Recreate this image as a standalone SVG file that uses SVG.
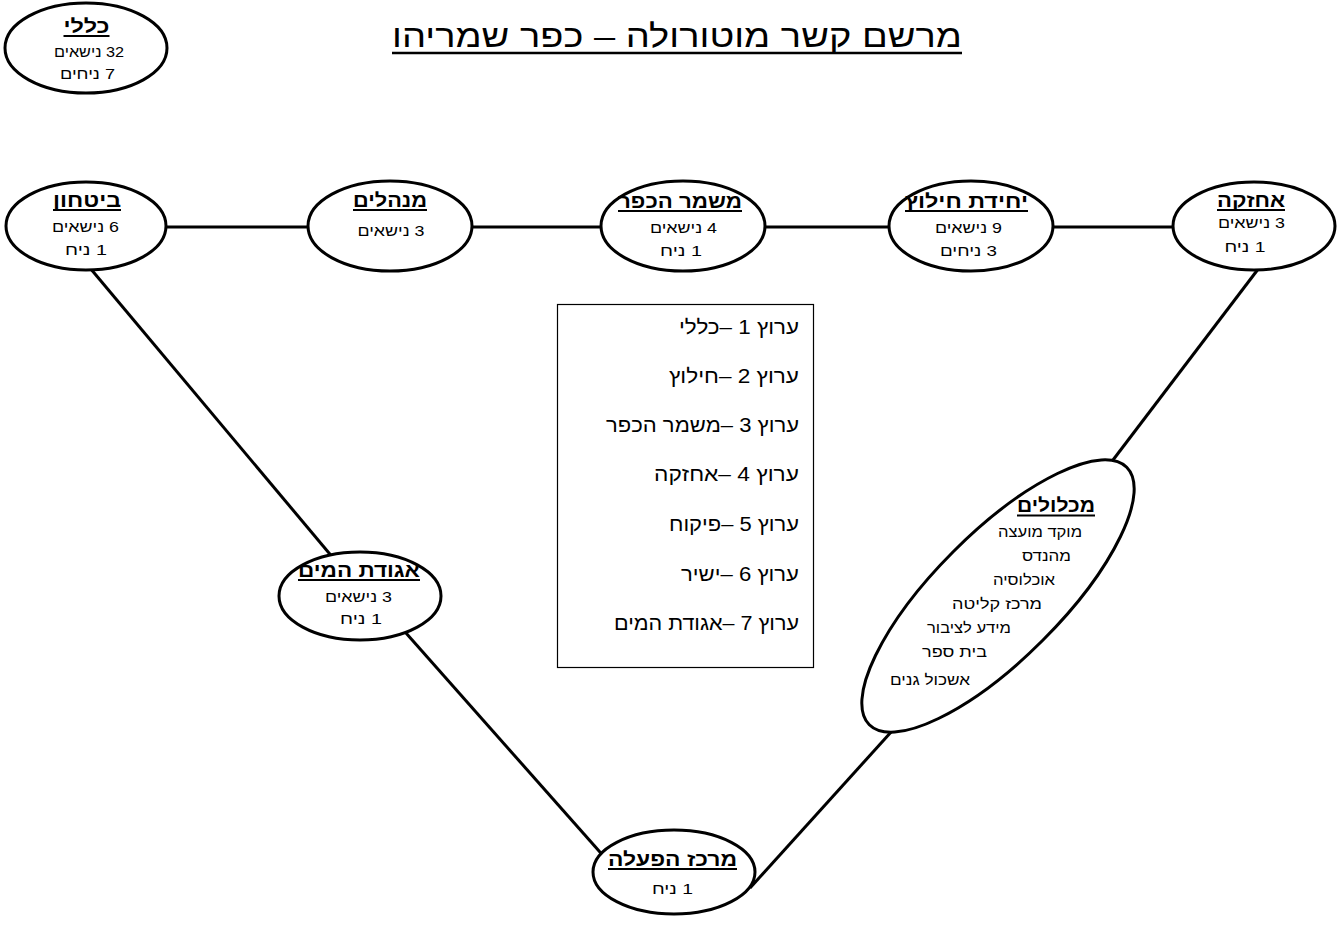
<svg xmlns="http://www.w3.org/2000/svg" width="1341" height="925" viewBox="0 0 1341 925">
<style>
text{font-family:"Liberation Sans","DejaVu Sans",sans-serif;fill:#000;direction:rtl}
.node ellipse{fill:#fff;stroke:#000;stroke-width:3}
.t{font-size:19px;font-weight:bold;text-anchor:middle}
.s{font-size:15px;text-anchor:middle}
.m{font-size:14.5px;text-anchor:start}
.lg{font-size:20px;text-anchor:start}
.u{stroke:#000;stroke-width:1.8}
.conn line{stroke:#000;stroke-width:3}
</style>
<rect width="1341" height="925" fill="#fff"/>
<g id="title">
<text x="677" y="47" style="font-size:32px;text-anchor:middle" textLength="570" lengthAdjust="spacingAndGlyphs">מרשם קשר מוטורולה – כפר שמריהו</text>
<line x1="392" y1="53" x2="962" y2="53" stroke="#000" stroke-width="2.4"/>
</g>
<g id="connectors" class="conn">
<line x1="160" y1="227" x2="315" y2="227"/>
<line x1="465" y1="227" x2="608" y2="227"/>
<line x1="758" y1="227" x2="896" y2="227"/>
<line x1="1046" y1="227" x2="1180" y2="227"/>
<line x1="85" y1="262" x2="334" y2="559"/>
<line x1="398" y1="624" x2="607" y2="860"/>
<line x1="750" y1="888" x2="892" y2="731"/>
<line x1="1113" y1="460" x2="1262" y2="264"/>
</g>
<g id="n-klali" class="node">
<ellipse cx="86" cy="48" rx="81" ry="45"/>
<text class="t" x="86.5" y="33" textLength="46" lengthAdjust="spacingAndGlyphs">כללי</text>
<line class="u" x1="63.5" y1="36" x2="109.5" y2="36"/>
<text class="s" x="89" y="57" textLength="70" lengthAdjust="spacingAndGlyphs">32 נישאים</text>
<text class="s" x="87.5" y="79" textLength="55" lengthAdjust="spacingAndGlyphs">7 ניחים</text>
</g>
<g id="n-bitahon" class="node">
<ellipse cx="86" cy="226" rx="80" ry="44"/>
<text class="t" x="87" y="207" textLength="68" lengthAdjust="spacingAndGlyphs">ביטחון</text>
<line class="u" x1="53" y1="210" x2="121" y2="210"/>
<text class="s" x="85.5" y="232" textLength="67" lengthAdjust="spacingAndGlyphs">6 נישאים</text>
<text class="s" x="86" y="255" textLength="42" lengthAdjust="spacingAndGlyphs">1 ניח</text>
</g>
<g id="n-menahalim" class="node">
<ellipse cx="390" cy="226" rx="82" ry="45"/>
<text class="t" x="390" y="207" textLength="74" lengthAdjust="spacingAndGlyphs">מנהלים</text>
<line class="u" x1="353" y1="210" x2="427" y2="210"/>
<text class="s" x="391" y="236" textLength="67" lengthAdjust="spacingAndGlyphs">3 נישאים</text>
</g>
<g id="n-mishmar" class="node">
<ellipse cx="683" cy="226" rx="82" ry="45"/>
<text class="t" x="680" y="208" textLength="124" lengthAdjust="spacingAndGlyphs">משמר הכפר</text>
<line class="u" x1="618" y1="211" x2="742" y2="211"/>
<text class="s" x="683.5" y="233" textLength="67" lengthAdjust="spacingAndGlyphs">4 נישאים</text>
<text class="s" x="681" y="256" textLength="42" lengthAdjust="spacingAndGlyphs">1 ניח</text>
</g>
<g id="n-hilutz" class="node">
<ellipse cx="971" cy="226" rx="82" ry="45"/>
<text class="t" x="966.5" y="208" textLength="123" lengthAdjust="spacingAndGlyphs">יחידת חילוץ</text>
<line class="u" x1="905" y1="211" x2="1028" y2="211"/>
<text class="s" x="968.5" y="233" textLength="67" lengthAdjust="spacingAndGlyphs">9 נישאים</text>
<text class="s" x="968.5" y="256" textLength="57" lengthAdjust="spacingAndGlyphs">3 ניחים</text>
</g>
<g id="n-ahzaka" class="node">
<ellipse cx="1254" cy="226" rx="81" ry="44"/>
<text class="t" x="1251" y="207" textLength="68" lengthAdjust="spacingAndGlyphs">אחזקה</text>
<line class="u" x1="1217" y1="210" x2="1285" y2="210"/>
<text class="s" x="1251.5" y="228" textLength="67" lengthAdjust="spacingAndGlyphs">3 נישאים</text>
<text class="s" x="1245" y="252" textLength="41" lengthAdjust="spacingAndGlyphs">1 ניח</text>
</g>
<g id="n-aguda" class="node">
<ellipse cx="360" cy="596" rx="81" ry="44"/>
<text class="t" x="359" y="577" textLength="122" lengthAdjust="spacingAndGlyphs">אגודת המים</text>
<line class="u" x1="298" y1="580" x2="420" y2="580"/>
<text class="s" x="358.5" y="602" textLength="67" lengthAdjust="spacingAndGlyphs">3 נישאים</text>
<text class="s" x="361" y="624" textLength="42" lengthAdjust="spacingAndGlyphs">1 ניח</text>
</g>
<g id="n-merkaz" class="node">
<ellipse cx="674" cy="872" rx="81" ry="42"/>
<text class="t" x="672.5" y="866" textLength="129" lengthAdjust="spacingAndGlyphs">מרכז הפעלה</text>
<line class="u" x1="608" y1="869" x2="737" y2="869"/>
<text class="s" x="672.5" y="894" textLength="41" lengthAdjust="spacingAndGlyphs">1 ניח</text>
</g>
<g id="n-michlolim" class="node">
<ellipse cx="998" cy="596" rx="182" ry="63" transform="rotate(-45 998 596)"/>
<text class="t" x="1056" y="512" textLength="78" lengthAdjust="spacingAndGlyphs">מכלולים</text>
<line class="u" x1="1017" y1="515.5" x2="1095" y2="515.5"/>
<text class="m" x="1082" y="537" textLength="84" lengthAdjust="spacingAndGlyphs">מוקד מועצה</text>
<text class="m" x="1071" y="561" textLength="49" lengthAdjust="spacingAndGlyphs">מהנדס</text>
<text class="m" x="1055" y="585" textLength="62" lengthAdjust="spacingAndGlyphs">אוכלוסיה</text>
<text class="m" x="1042" y="609" textLength="90" lengthAdjust="spacingAndGlyphs">מרכז קליטה</text>
<text class="m" x="1011" y="633" textLength="84" lengthAdjust="spacingAndGlyphs">מידע לציבור</text>
<text class="m" x="987" y="657" textLength="65" lengthAdjust="spacingAndGlyphs">בית ספר</text>
<text class="m" x="970" y="685" textLength="80" lengthAdjust="spacingAndGlyphs">אשכול גנים</text>
</g>
<g id="legend">
<rect x="557.5" y="304.5" width="256" height="363" fill="#fff" stroke="#000" stroke-width="1.2"/>
<text class="lg" x="799" y="334" textLength="120" lengthAdjust="spacingAndGlyphs">ערוץ 1 –כללי</text>
<text class="lg" x="799" y="383" textLength="130" lengthAdjust="spacingAndGlyphs">ערוץ 2 –חילוץ</text>
<text class="lg" x="799" y="432" textLength="193" lengthAdjust="spacingAndGlyphs">ערוץ 3 –משמר הכפר</text>
<text class="lg" x="799" y="481" textLength="145" lengthAdjust="spacingAndGlyphs">ערוץ 4 –אחזקה</text>
<text class="lg" x="799" y="531" textLength="130" lengthAdjust="spacingAndGlyphs">ערוץ 5 –פיקוח</text>
<text class="lg" x="799" y="581" textLength="118" lengthAdjust="spacingAndGlyphs">ערוץ 6 –ישיר</text>
<text class="lg" x="799" y="630" textLength="185" lengthAdjust="spacingAndGlyphs">ערוץ 7 –אגודת המים</text>
</g>
</svg>
